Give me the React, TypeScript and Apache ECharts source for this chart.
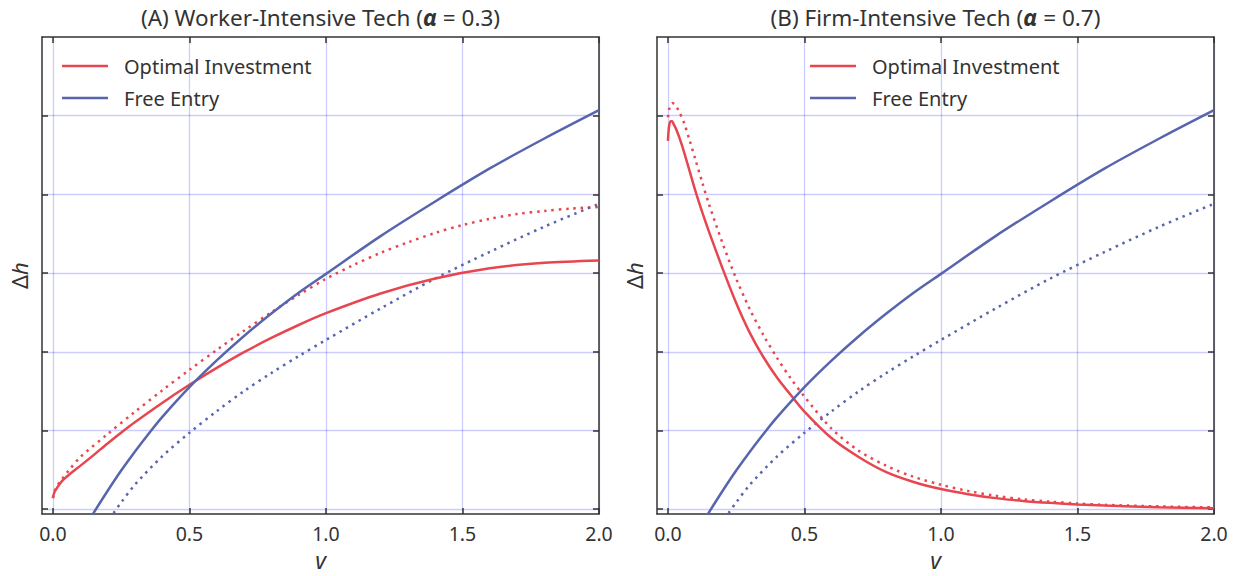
import React, { useEffect, useRef } from "react";
import * as echarts from "echarts";

// ---------- data ----------
const xTicks = [0, 0.5, 1.0, 1.5, 2.0];
const yTicks = [0, 1, 2, 3, 4, 5];

const titles = ["(A) Worker-Intensive Tech ({a|α} = 0.3)", "(B) Firm-Intensive Tech ({a|α} = 0.7)"];
const legendNames = ["Optimal Investment", "Free Entry"];

// Free Entry (same in both panels)
const feSolidV = [0.145, 0.2, 0.25, 0.3, 0.36, 0.4, 0.5, 0.6, 0.7, 0.8, 0.9, 1.0, 1.2, 1.4, 1.6, 1.8, 2.0];
const feSolidY = [-0.07, 0.23, 0.49, 0.73, 1.0, 1.17, 1.55, 1.89, 2.2, 2.485, 2.75, 2.99, 3.47, 3.91, 4.33, 4.71, 5.07];
const feDotV = [0.222, 0.25, 0.3, 0.4, 0.5, 0.6, 0.7, 0.8, 0.9, 1.0, 1.2, 1.4, 1.6, 1.8, 2.0];
const feDotY = [-0.05, 0.085, 0.31, 0.67, 0.97, 1.245, 1.5, 1.73, 1.945, 2.15, 2.55, 2.93, 3.27, 3.59, 3.88];

// Optimal Investment, alpha = 0.3
const oiA_SolidV = [0, 0.005, 0.015, 0.033, 0.06, 0.1, 0.15, 0.2, 0.26, 0.3, 0.4, 0.5, 0.6, 0.7, 0.8, 0.9, 1.0, 1.2, 1.4, 1.6, 1.8, 2.0];
const oiA_SolidY = [0.14, 0.21, 0.27, 0.355, 0.44, 0.55, 0.69, 0.835, 1.0, 1.105, 1.35, 1.58, 1.795, 1.995, 2.175, 2.34, 2.49, 2.74, 2.93, 3.06, 3.13, 3.16];
const oiA_DotV = [0, 0.005, 0.015, 0.035, 0.06, 0.1, 0.2, 0.3, 0.4, 0.5, 0.6, 0.7, 0.8, 0.9, 1.0, 1.1, 1.2, 1.3, 1.4, 1.5, 1.6, 1.7, 1.8, 1.9, 2.0];
const oiA_DotY = [0.14, 0.22, 0.29, 0.39, 0.5, 0.66, 0.953, 1.236, 1.508, 1.77, 2.023, 2.267, 2.502, 2.722, 2.927, 3.1, 3.257, 3.39, 3.51, 3.61, 3.69, 3.75, 3.79, 3.82, 3.84];

// Optimal Investment, alpha = 0.7
const oiB_SolidV = [0, 0.003, 0.006, 0.01, 0.015, 0.02, 0.03, 0.05, 0.075, 0.1, 0.125, 0.15, 0.2, 0.25, 0.3, 0.35, 0.4, 0.45, 0.5, 0.6, 0.7, 0.8, 0.9, 1.0, 1.1, 1.2, 1.3, 1.4, 1.5, 1.6, 1.8, 2.0];
const oiB_SolidY = [4.68, 4.83, 4.9, 4.93, 4.93, 4.9, 4.83, 4.64, 4.35, 4.05, 3.78, 3.53, 3.06, 2.62, 2.24, 1.93, 1.67, 1.45, 1.24, 0.9, 0.66, 0.47, 0.345, 0.256, 0.19, 0.14, 0.105, 0.08, 0.06, 0.045, 0.025, 0.012];
const oiB_DotV = [0, 0.004, 0.008, 0.016, 0.025, 0.04, 0.06, 0.08, 0.1, 0.125, 0.15, 0.2, 0.25, 0.3, 0.35, 0.4, 0.45, 0.5, 0.6, 0.7, 0.8, 0.9, 1.0, 1.1, 1.2, 1.3, 1.4, 1.5, 1.6, 1.8, 2.0];
const oiB_DotY = [4.98, 5.07, 5.12, 5.16, 5.14, 5.06, 4.9, 4.68, 4.45, 4.16, 3.88, 3.38, 2.93, 2.54, 2.21, 1.92, 1.66, 1.43, 1.02, 0.74, 0.55, 0.41, 0.31, 0.23, 0.17, 0.125, 0.095, 0.072, 0.055, 0.035, 0.022];

// ---------- style ----------
const RED = "#E8464F";
const BLUE = "#5765AE";
const AX = "#333333";
const GRIDC = "rgba(0,0,255,0.2)";
const FONT = "Noto Sans";

const zip = (xs: number[], ys: number[]) => xs.map((x, i) => [x, ys[i]]);

const grids = [
  { left: 42, top: 37, width: 557, height: 481 },
  { left: 657, top: 37, width: 557, height: 481 },
];

function buildOption() {
  const xAxis: any[] = [];
  const yAxis: any[] = [];
  const series: any[] = [];
  const legend: any[] = [];
  const graphic: any[] = [];
  const panels = [
    { s: zip(oiA_SolidV, oiA_SolidY), d: zip(oiA_DotV, oiA_DotY), legendLeft: 62 },
    { s: zip(oiB_SolidV, oiB_SolidY), d: zip(oiB_DotV, oiB_DotY), legendLeft: 810 },
  ];
  panels.forEach((p, gi) => {
    const axLine = { show: true, onZero: false, lineStyle: { color: AX, width: 1.5 } };
    const tick = (vals: number[]) => ({ show: true, inside: true, length: 6, customValues: vals, lineStyle: { color: AX, width: 1.5 } });
    xAxis.push({
      gridIndex: gi, type: "value", position: "bottom", min: -0.04, max: 2.0,
      axisLine: axLine, axisTick: tick(xTicks),
      axisLabel: { customValues: xTicks, formatter: (v: number) => v.toFixed(1), fontSize: 19.5, color: AX, fontFamily: FONT, margin: 9 },
      splitLine: { show: true, lineStyle: { color: GRIDC, width: 1.3 } },
      name: "v", nameLocation: "middle", nameGap: 33,
      nameTextStyle: { fontSize: 23, fontStyle: "italic", color: AX, fontFamily: FONT },
    });
    xAxis.push({
      gridIndex: gi, type: "value", position: "top", min: -0.04, max: 2.0,
      axisLine: axLine, axisTick: tick(xTicks), axisLabel: { show: false }, splitLine: { show: false },
    });
    yAxis.push({
      gridIndex: gi, type: "value", position: "left", min: -0.063, max: 6,
      axisLine: axLine, axisTick: tick(yTicks), axisLabel: { show: false },
      splitLine: { show: true, lineStyle: { color: GRIDC, width: 1.3 } },
      name: "Δ{h|h}", nameLocation: "middle", nameRotate: 90, nameGap: 12,
      nameTextStyle: { fontSize: 22, color: AX, fontFamily: FONT, rich: { h: { fontSize: 22, fontStyle: "italic", color: AX, fontFamily: FONT } } },
    });
    yAxis.push({
      gridIndex: gi, type: "value", position: "right", min: -0.063, max: 6,
      axisLine: axLine, axisTick: tick(yTicks), axisLabel: { show: false }, splitLine: { show: false },
    });
    const xi = gi * 2;
    const yi = gi * 2;
    const common = { type: "line", xAxisIndex: xi, yAxisIndex: yi, showSymbol: false, symbol: "none", smooth: 0.3, clip: true };
    const dotted = [2.5, 4.8];
    series.push({ ...common, name: "Optimal Investment (ref)", data: p.d, lineStyle: { color: RED, width: 2.5, type: dotted, cap: "butt" }, itemStyle: { color: RED }, z: 2 });
    series.push({ ...common, name: "Free Entry (ref)", data: zip(feDotV, feDotY), lineStyle: { color: BLUE, width: 2.5, type: dotted, cap: "butt" }, itemStyle: { color: BLUE }, z: 2 });
    series.push({ ...common, name: "Optimal Investment", data: p.s, lineStyle: { color: RED, width: 2.5 }, itemStyle: { color: RED }, z: 3 });
    series.push({ ...common, name: "Free Entry", data: zip(feSolidV, feSolidY), lineStyle: { color: BLUE, width: 2.5 }, itemStyle: { color: BLUE }, z: 3 });

    legend.push({
      data: legendNames.map((n) => ({ name: n, icon: "rect" })), left: p.legendLeft, top: 55, orient: "vertical", padding: 0,
      itemWidth: 46, itemHeight: 2.5, itemGap: 10, selectedMode: false,
      textStyle: { fontSize: 20, color: AX, fontFamily: FONT, lineHeight: 22, padding: [0, 0, 0, 11] },
    });
    const g = grids[gi];
    graphic.push({
      type: "text", x: g.left + g.width / 2, y: 17,
      style: {
        text: titles[gi], textAlign: "center", textVerticalAlign: "middle",
        fontSize: 22.5, fontFamily: FONT, fill: AX,
        rich: { a: { fontSize: 23, fontFamily: FONT, fontWeight: "bold", fontStyle: "italic", fill: AX } },
      },
    });
  });
  return {
    animation: false,
    backgroundColor: "#ffffff",
    grid: grids,
    xAxis, yAxis, series, legend, graphic,
  };
}

export default function App() {
  const ref = useRef<HTMLDivElement>(null);
  useEffect(() => {
    if (!ref.current) return;
    const chart = echarts.init(ref.current, undefined, { renderer: "svg" });
    chart.setOption(buildOption() as any);
    return () => chart.dispose();
  }, []);
  return <div ref={ref} style={{ position: "absolute", left: 0, top: 0, width: 1239, height: 576 }} />;
}
